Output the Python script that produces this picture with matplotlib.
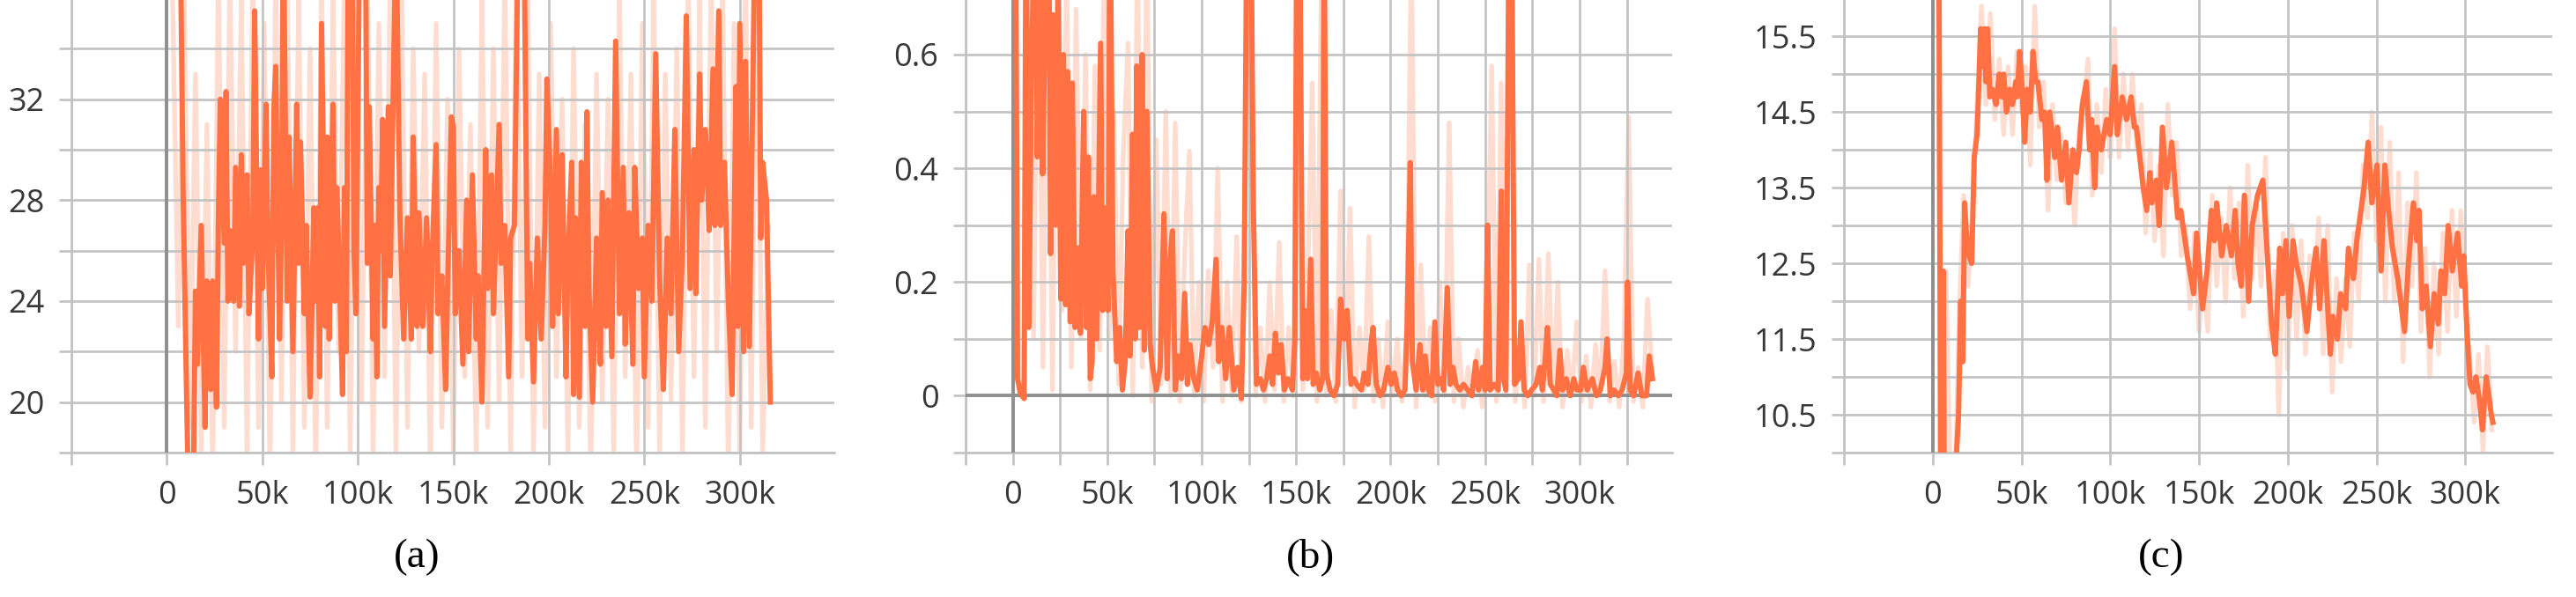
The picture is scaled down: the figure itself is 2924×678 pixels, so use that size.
import matplotlib
matplotlib.use("Agg")
import matplotlib.pyplot as plt

# ---- panel (a): steps in thousands ----
a_steps = [5, 6, 7, 8.5, 10, 11, 13, 14, 15, 16,
           18, 20, 21, 23, 24, 26, 27, 28, 30, 31,
           32, 33, 35, 36, 38, 39, 40, 42, 43, 45,
           46, 48, 49, 50, 52, 53, 55, 56, 57, 59,
           60, 61, 63, 64, 66, 68, 69, 70, 72, 73,
           75, 77, 78, 79, 80, 81, 83, 84, 85, 87,
           88, 89, 90, 92, 93, 94, 95, 97, 98, 99,
           100, 101, 104, 105, 106, 108, 109, 110, 111, 112,
           113, 114, 116, 117, 120, 122, 124, 126, 128, 129,
           131, 132, 134, 136, 138, 139, 141, 142, 144, 146,
           147, 149, 150, 151, 153, 155, 157, 158, 160, 162,
           163, 165, 167, 168, 170, 171, 174, 175, 177, 179,
           180, 182, 184, 187, 189, 190, 192, 194, 196, 198,
           199, 201, 202, 204, 205, 207, 209, 210, 212, 213,
           214, 216, 217, 219, 220, 221, 223, 225, 227, 228,
           230, 231, 233, 235, 237, 239, 240, 242, 244, 245,
           247, 249, 250, 252, 254, 256, 258, 260, 262, 264,
           266, 268, 270, 272, 274, 276, 277, 279, 280, 282,
           284, 286, 287, 289, 290, 292, 294, 296, 298, 299,
           300, 302, 303, 305, 308, 310, 311, 312, 314, 315,
           316]
a_values = [39, 39, 39, 28.4, 21.7, 17.5, 17.5, 17.5, 24.4, 21.5,
            27, 19, 24.8, 20.5, 24.8, 19.8, 27.3, 32, 26.3, 32.3,
            24, 26.8, 24, 29.3, 23.8, 29.8, 25.5, 29, 23.5, 26.5,
            35.5, 22.5, 29.2, 24.5, 31.8, 26, 21, 31.5, 33.3, 22.5,
            27, 39, 24, 30.5, 22, 31.8, 25.5, 30.3, 23.5, 27,
            20.2, 27.7, 24, 27.7, 21, 35, 23, 30.5, 22.5, 31.8,
            24, 28.5, 26, 20.3, 28.5, 22, 39, 39, 26, 23.5,
            31, 39, 39, 25.5, 31.7, 22.5, 27, 21, 28.5, 26,
            31.2, 23, 31.7, 25, 39, 27.5, 22.5, 27.3, 22.5, 30.5,
            23, 27.5, 23, 27.3, 22, 26, 30.2, 23.5, 25, 20.5,
            24.5, 31.3, 30.9, 23.5, 26, 21.5, 28, 22, 29, 22.5,
            25, 20, 30, 24.5, 29, 23.5, 31, 25.5, 27, 21,
            26.5, 27, 39, 39, 22.5, 25.5, 20.8, 26.5, 22.5, 27,
            32.8, 28.5, 23, 30.8, 23.5, 29.8, 21, 25.5, 29.5, 20.3,
            27.3, 20.2, 29.5, 23, 31.5, 24.5, 20, 26.5, 21.5, 28.3,
            23, 28, 21.8, 34.3, 23.5, 29.3, 22.3, 27.5, 21.5, 29.3,
            24.5, 26.5, 21, 27, 24, 33.8, 25, 20.5, 26.5, 23.5,
            30.8, 22, 26, 35.3, 24.5, 30, 24.3, 33, 28, 30.8,
            26.8, 33.2, 27, 35.5, 27, 29.5, 24, 20.3, 32.5, 23,
            35, 22, 33.5, 22.2, 39, 39, 26.5, 29.5, 28, 24,
            20]
a_raw_steps = [3, 6, 9, 12, 15, 18, 21, 24, 27, 30,
               33, 36, 39, 42, 45, 48, 51, 54, 57, 60,
               63, 66, 69, 72, 75, 78, 81, 84, 87, 90,
               93, 96, 99, 102, 105, 108, 111, 114, 117, 120,
               123, 126, 129, 132, 135, 138, 141, 144, 147, 150,
               153, 156, 159, 162, 165, 168, 171, 174, 177, 180,
               183, 186, 189, 192, 195, 198, 201, 204, 207, 210,
               213, 216, 219, 222, 225, 228, 231, 234, 237, 240,
               243, 246, 249, 252, 255, 258, 261, 264, 267, 270,
               273, 276, 279, 282, 285, 288, 291, 294, 297, 300,
               303, 306, 309, 312, 315]
a_raw_values = [36, 23, 37, 19, 33, 18, 31, 17, 37, 19,
                37, 22, 36, 18, 37, 19, 35, 17, 37, 20,
                37, 18, 36, 19, 34, 17, 37, 19, 36, 22,
                37, 18, 37, 20, 37, 18, 35, 21, 37, 18,
                36, 19, 34, 22, 33, 17, 35, 19, 32, 18,
                34, 21, 31, 18, 36, 19, 34, 20, 37, 18,
                37, 21, 36, 18, 33, 19, 35, 21, 32, 18,
                34, 19, 31, 17, 33, 20, 32, 18, 36, 21,
                33, 17, 35, 19, 36, 18, 33, 20, 34, 18,
                37, 21, 36, 19, 37, 22, 37, 17, 35, 18,
                37, 19, 37, 18, 27]

# ---- panel (b) ----
b_steps = [0.5, 1.5, 2.5, 4, 6, 7, 8.5, 10, 12, 13,
           14.6, 15.8, 17, 19, 20, 21.4, 22.8, 24, 25.4, 26.8,
           28, 29, 30.4, 31.5, 33, 34.6, 35.8, 37.5, 39, 40,
           41, 42, 43, 44.5, 46.5, 47.6, 48.7, 50.4, 51.5, 53,
           55, 56.6, 58, 59.5, 61, 62, 63.4, 64.8, 65.6, 67,
           68.5, 69.6, 71, 72.7, 74, 76, 78, 80, 81.7, 83,
           84.5, 86, 87.6, 89.3, 91, 92.4, 93.8, 95.8, 97.7, 100,
           101.7, 103.7, 105.6, 107.6, 109, 110.7, 112.7, 114.6, 117, 119,
           121, 122.5, 124, 126, 127.3, 129, 131, 132.7, 134.4, 136,
           137.5, 139, 140.6, 142, 143.7, 145.6, 148, 149.3, 150.4, 151.8,
           153.5, 154.6, 156, 157.7, 159, 160.6, 162.5, 164, 164.8, 166,
           168, 170, 172, 173.5, 175.5, 177, 179, 180.5, 182, 184.5,
           186, 188, 189.6, 190.7, 192.4, 194.4, 196.3, 198.6, 200.3, 202,
           203.7, 205.6, 207.6, 208.7, 210.4, 211.5, 213.5, 215.5, 217, 218.3,
           220, 221.7, 223.4, 225, 226.8, 228, 230, 231.5, 233, 234.6,
           236.6, 238.6, 240.8, 243, 245, 246.5, 248.7, 250, 251.3, 252.7,
           255, 257, 258.6, 259.7, 261, 262.8, 264, 265.6, 267.6, 269,
           270.7, 272.7, 274.6, 277, 279, 280.3, 281.7, 283, 284.5, 286.5,
           288, 289.6, 291, 293, 295, 297, 298.6, 300.6, 302, 304,
           306.8, 309, 311, 313.5, 314.6, 316.3, 318.3, 320.6, 322.5, 324.8,
           325.4, 326.8, 328.7, 331, 333, 335.5, 336.9, 338.6]
b_values = [0.9, 0.9, 0.03, 0.005, -0.005, 0.9, 0.12, 0.6, 0.9, 0.42,
            0.9, 0.39, 0.65, 0.9, 0.25, 0.67, 0.3, 0.72, 0.17, 0.6,
            0.16, 0.57, 0.13, 0.55, 0.12, 0.26, 0.11, 0.5, 0.12, 0.42,
            0.03, 0.06, 0.35, 0.1, 0.62, 0.15, 0.33, 0.15, 0.9, 0.22,
            0.06, 0.12, 0.01, 0.06, 0.29, 0.07, 0.46, 0.1, 0.58, 0.12,
            0.6, 0.08, 0.5, 0.09, 0.05, 0.01, 0.05, 0.32, 0.03, 0.23,
            0.29, 0.01, 0.07, 0.03, 0.18, 0.02, 0.09, 0.03, 0.01, 0.07,
            0.12, 0.09, 0.13, 0.24, 0.06, 0.12, 0.03, 0.12, 0.01, 0.05,
            -0.005, 0.2, 0.9, 0.9, 0.34, 0.02, 0.03, 0.01, 0.03, 0.07,
            0.02, 0.11, 0.04, 0.09, 0.01, 0.03, 0.01, 0.1, 0.9, 0.9,
            0.03, 0.15, 0.03, 0.24, 0.02, 0.04, 0.01, 0.03, 0.9, 0.04,
            0.01, 0.0, 0.02, 0.17, 0.1, 0.15, 0.02, 0.03, 0.02, 0.01,
            0.04, 0.02, 0.09, 0.12, 0.02, 0.0, 0.01, 0.05, 0.02, 0.04,
            0.01, 0.0, 0.01, 0.12, 0.41, 0.06, 0.01, 0.09, 0.01, 0.07,
            0.01, 0.0, 0.13, 0.02, 0.03, 0.01, 0.19, 0.02, 0.05, 0.02,
            0.01, 0.02, 0.01, 0.0, 0.06, 0.01, 0.05, 0.01, 0.3, 0.01,
            0.02, 0.01, 0.36, 0.03, 0.01, 0.9, 0.9, 0.02, 0.03, 0.13,
            0.01, 0.0, 0.01, 0.02, 0.05, 0.01, 0.06, 0.12, 0.02, 0.01,
            0.0, 0.08, 0.01, 0.03, 0.0, 0.03, 0.01, 0.01, 0.05, 0.01,
            0.03, 0.0, 0.01, 0.05, 0.1, 0.0, 0.01, 0.0, 0.01, 0.04,
            0.2, 0.01, 0.0, 0.04, 0.0, 0.0, 0.07, 0.03]
b_raw_steps = [1, 3.5, 6, 8.5, 11, 13.5, 16, 18.5, 21, 23.5,
               26, 28.5, 31, 33.5, 36, 38.5, 41, 43.5, 46, 48.5,
               51, 53.5, 56, 58.5, 61, 63.5, 66, 68.5, 71, 73.5,
               76, 78.5, 81, 83.5, 86, 88.5, 91, 93.5, 96, 98.5,
               101, 103.5, 106, 108.5, 111, 113.5, 116, 118.5, 121, 123.5,
               126, 128.5, 131, 133.5, 136, 138.5, 141, 143.5, 146, 148.5,
               151, 153.5, 156, 158.5, 161, 163.5, 166, 168.5, 171, 173.5,
               176, 178.5, 181, 183.5, 186, 188.5, 191, 193.5, 196, 198.5,
               201, 203.5, 206, 208.5, 211, 213.5, 216, 218.5, 221, 223.5,
               226, 228.5, 231, 233.5, 236, 238.5, 241, 243.5, 246, 248.5,
               251, 253.5, 256, 258.5, 261, 263.5, 266, 268.5, 271, 273.5,
               276, 278.5, 281, 283.5, 286, 288.5, 291, 293.5, 296, 298.5,
               301, 303.5, 306, 308.5, 311, 313.5, 316, 318.5, 321, 323.5,
               326, 328.5, 331, 333.5, 336, 338.5]
b_raw_values = [0.8, 0.0, 0.02, 0.8, 0.1, 0.8, 0.05, 0.8, 0.01, 0.8,
                0.15, 0.75, 0.05, 0.68, 0.1, 0.6, 0.01, 0.58, 0.08, 0.8,
                0.1, 0.5, 0.02, 0.43, 0.62, 0.0, 0.8, 0.05, 0.8, -0.01,
                0.45, 0.02, 0.5, 0.0, 0.48, -0.01, 0.25, 0.43, 0.0, 0.2,
                -0.01, 0.22, 0.05, 0.4, -0.01, 0.2, 0.0, 0.28, -0.01, 0.47,
                0.8, 0.0, 0.12, -0.01, 0.2, 0.01, 0.27, -0.01, 0.12, 0.0,
                0.8, 0.01, 0.18, 0.55, -0.01, 0.8, 0.0, 0.15, -0.01, 0.36,
                0.02, 0.33, -0.02, 0.12, 0.01, 0.28, -0.01, 0.1, -0.02, 0.13,
                0.0, 0.1, -0.01, 0.12, 0.8, -0.02, 0.23, 0.0, 0.12, -0.01,
                0.2, 0.0, 0.48, -0.01, 0.1, -0.02, 0.05, 0.0, 0.08, -0.02,
                0.13, 0.58, -0.01, 0.55, 0.0, 0.8, -0.01, 0.1, -0.02, 0.23,
                0.0, 0.24, -0.01, 0.25, 0.0, 0.2, -0.02, 0.08, 0.0, 0.13,
                -0.01, 0.07, -0.02, 0.09, 0.0, 0.22, -0.01, 0.06, -0.02, 0.1,
                0.49, -0.01, 0.05, -0.02, 0.17, 0.04]

# ---- panel (c) ----
c_steps = [1.5, 3.5, 4.5, 5.2, 5.9, 6.6, 9, 12, 13, 14.6,
           15.8, 17, 18, 19, 20.5, 22, 23.4, 25, 25.8, 27,
           28, 29.3, 30, 31, 32.2, 33.7, 35.7, 37.5, 39, 40,
           41.6, 43.5, 45, 46.8, 47.6, 49, 50.4, 51.8, 53.3, 55,
           56.5, 58, 59.3, 61.5, 63, 64.4, 65.9, 68.8, 70.3, 72.6,
           75, 76.7, 79, 81, 82.5, 84.3, 86.6, 88.4, 89.5, 91.3,
           92.5, 95, 98, 100, 102.5, 104, 106.8, 109.2, 111.8, 113.6,
           114.8, 118.6, 120.6, 122.4, 123.5, 125.9, 127.6, 129.4, 131.7, 134.7,
           138, 139.8, 143.4, 147, 148.7, 152, 154.6, 157, 158.7, 160,
           162.8, 165.4, 168.3, 170.4, 172, 173.8, 175.6, 178, 180, 183,
           186, 188.8, 190.9, 193, 195.5, 197, 199, 200.8, 203, 204.8,
           207.8, 210.8, 213.7, 216, 218, 220.4, 224, 225.4, 228, 229.8,
           232.7, 234.2, 237, 238.9, 243, 245.3, 247.4, 250.3, 252.6, 254.7,
           256.4, 259, 262, 265.8, 268, 270.8, 272.8, 274, 275.8, 278,
           280.4, 282.5, 284.8, 286.3, 288.4, 290.4, 292.7, 295.7, 298, 299.2,
           301, 302.7, 304.4, 306, 308, 309.7, 311.8, 313, 314.7, 315.6]
c_values = [17, 17, 9.5, 9.5, 12.4, 9.5, 9.5, 9.5, 9.8, 10.5,
            12.0, 11.2, 13.3, 12.9, 12.6, 12.5, 13.9, 14.2, 14.7, 15.6,
            15.1, 15.6, 14.9, 15.6, 14.7, 14.8, 14.6, 15.0, 14.7, 15.0,
            14.5, 14.8, 14.6, 14.9, 14.7, 15.3, 14.8, 14.1, 14.8, 14.5,
            15.3, 14.9, 14.9, 14.4, 14.5, 13.6, 14.5, 13.9, 14.3, 13.6,
            14.1, 13.3, 14.0, 13.7, 14.0, 14.6, 14.9, 14.0, 14.4, 13.5,
            14.3, 14.0, 14.4, 14.2, 15.1, 14.2, 14.7, 14.4, 14.7, 14.3,
            14.3, 13.5, 13.2, 13.7, 13.3, 13.6, 13.0, 14.3, 13.5, 14.1,
            13.1, 13.2, 12.6, 12.1, 12.9, 11.9, 12.4, 13.2, 12.8, 13.3,
            12.6, 13.0, 12.6, 13.2, 12.5, 12.2, 13.4, 12.0, 13.0, 13.4,
            13.6, 12.5, 11.7, 11.3, 12.7, 12.1, 12.8, 11.8, 12.8, 12.5,
            12.2, 11.6, 12.3, 12.7, 11.9, 12.8, 11.3, 11.8, 11.5, 12.1,
            11.9, 12.7, 12.3, 12.8, 13.5, 14.1, 13.3, 13.8, 12.4, 13.8,
            13.3, 12.7, 12.3, 11.6, 12.5, 13.3, 12.8, 13.2, 11.9, 12.2,
            11.4, 12.1, 11.7, 12.4, 12.1, 13.0, 12.4, 12.9, 12.2, 12.6,
            11.6, 10.9, 10.8, 11.0, 10.7, 10.3, 11.0, 10.8, 10.5, 10.4]
c_raw_steps = [2.5, 5, 7.5, 10, 12.5, 15, 17.5, 20, 22.5, 25,
               27.5, 30, 32.5, 35, 37.5, 40, 42.5, 45, 47.5, 50,
               52.5, 55, 57.5, 60, 62.5, 65, 67.5, 70, 72.5, 75,
               77.5, 80, 82.5, 85, 87.5, 90, 92.5, 95, 97.5, 100,
               102.5, 105, 107.5, 110, 112.5, 115, 117.5, 120, 122.5, 125,
               127.5, 130, 132.5, 135, 137.5, 140, 142.5, 145, 147.5, 150,
               152.5, 155, 157.5, 160, 162.5, 165, 167.5, 170, 172.5, 175,
               177.5, 180, 182.5, 185, 187.5, 190, 192.5, 195, 197.5, 200,
               202.5, 205, 207.5, 210, 212.5, 215, 217.5, 220, 222.5, 225,
               227.5, 230, 232.5, 235, 237.5, 240, 242.5, 245, 247.5, 250,
               252.5, 255, 257.5, 260, 262.5, 265, 267.5, 270, 272.5, 275,
               277.5, 280, 282.5, 285, 287.5, 290, 292.5, 295, 297.5, 300,
               302.5, 305, 307.5, 310, 312.5, 315]
c_raw_values = [17, 9.5, 12.4, 9.5, 9.5, 11.9, 13.4, 12.2, 13.2, 14.6,
                15.9, 14.6, 15.8, 14.4, 15.2, 14.2, 15.1, 14.2, 15.3, 14.5,
                15.1, 13.8, 15.9, 14.3, 14.9, 13.2, 14.6, 13.6, 14.2, 13.3,
                14.0, 13.0, 14.3, 14.5, 15.2, 13.4, 14.6, 13.7, 14.8, 13.9,
                15.6, 13.9, 15.0, 14.0, 15.0, 14.0, 14.6, 12.9, 14.0, 12.8,
                13.8, 12.6, 14.6, 13.4, 14.1, 12.6, 13.0, 11.9, 12.9, 11.6,
                12.3, 11.6, 13.4, 12.2, 13.1, 12.0, 13.5, 12.3, 13.3, 11.8,
                13.8, 12.3, 13.3, 12.2, 13.9, 11.5, 12.4, 10.5, 12.9, 11.1,
                13.0, 11.5, 12.8, 11.3, 12.6, 12.1, 13.1, 11.3, 13.0, 10.8,
                12.3, 11.2, 12.3, 11.4, 12.9, 12.0, 13.8, 13.1, 14.5, 12.8,
                14.3, 12.0, 14.1, 12.0, 13.7, 11.2, 13.3, 12.2, 13.7, 11.6,
                12.7, 11.0, 12.5, 11.3, 12.9, 11.6, 13.2, 11.8, 13.2, 11.9,
                11.3, 10.4, 11.3, 10.0, 11.4, 10.3]

captions = ["(a)", "(b)", "(c)"]

MAIN = "#ff7043"
PALE = "#ffdcd0"
GRID = "#c2c2c2"
ZERO = "#8f8f8f"
TXT = "#383838"


def k_label(v):
    return "0" if v == 0 else f"{int(v / 1000)}k"


def draw_panel(ax, raw_x, raw_y, x, y, xlim, ylim, xticks, xlab, yticks, ylab, zero_h=False):
    ax.plot([s * 1000 for s in raw_x], raw_y, color=PALE, lw=3.8, zorder=1)
    ax.plot([s * 1000 for s in x], y, color=MAIN, lw=4.3, zorder=3)
    ax.axvline(0, color=ZERO, lw=2.8, zorder=2.6)
    if zero_h:
        ax.axhline(0, color=ZERO, lw=2.8, zorder=2.6)
    ax.set_xlim(*xlim)
    ax.set_ylim(*ylim)
    ax.set_xticks(xticks)
    ax.set_xticklabels([k_label(t) if t in xlab else "" for t in xticks])
    ax.set_yticks(yticks)
    ax.set_yticklabels(ylab)
    ax.set_axisbelow(False)
    ax.grid(True, color=GRID, lw=1.9, zorder=2.5)
    ax.tick_params(length=10, width=1.9, color=GRID, labelsize=26,
                   labelcolor=TXT, pad=12)
    for side in ["top", "right"]:
        ax.spines[side].set_visible(False)
    for side in ["bottom", "left"]:
        ax.spines[side].set_color(GRID)
        ax.spines[side].set_linewidth(1.9)


plt.rcParams["font.family"] = ["Open Sans", "DejaVu Sans"]

fig = plt.figure(figsize=(29.24, 6.78), dpi=100)
bottom = 164 / 678
height = 1 - bottom
ax_a = fig.add_axes([81 / 2924, bottom, 866 / 2924, height])
ax_b = fig.add_axes([1096 / 2924, bottom, 802 / 2924, height])
ax_c = fig.add_axes([2093 / 2924, bottom, 804 / 2924, height])

labelled = [0, 50000, 100000, 150000, 200000, 250000, 300000]

draw_panel(ax_a, a_raw_steps, a_raw_values, a_steps, a_values,
           (-50000, 349500), (18, 35.93),
           [-50000, 0, 50000, 100000, 150000, 200000, 250000, 300000], labelled,
           [18, 20, 22, 24, 26, 28, 30, 32, 34],
           ["", "20", "", "24", "", "28", "", "32", ""])

draw_panel(ax_b, b_raw_steps, b_raw_values, b_steps, b_values,
           (-24500, 349000), (-0.1, 0.696),
           [-25000, 0, 25000, 50000, 75000, 100000, 125000, 150000, 175000,
            200000, 225000, 250000, 275000, 300000, 325000], labelled,
           [-0.1, 0, 0.1, 0.2, 0.3, 0.4, 0.5, 0.6],
           ["", "0", "", "0.2", "", "0.4", "", "0.6"], zero_h=True)

draw_panel(ax_c, c_raw_steps, c_raw_values, c_steps, c_values,
           (-50000, 349000), (10, 15.98),
           [-50000, 0, 50000, 100000, 150000, 200000, 250000, 300000], labelled,
           [10, 10.5, 11, 11.5, 12, 12.5, 13, 13.5, 14, 14.5, 15, 15.5],
           ["", "10.5", "", "11.5", "", "12.5", "", "13.5", "", "14.5", "", "15.5"])

cap_x = [473, 1487, 2453]
for cx, cap in zip(cap_x, captions):
    fig.text(cx / 2924, 1 - 633 / 678, cap, ha="center", va="center",
             fontsize=34, family="Liberation Serif", color="black")

fig.savefig("out.png", dpi=100)
